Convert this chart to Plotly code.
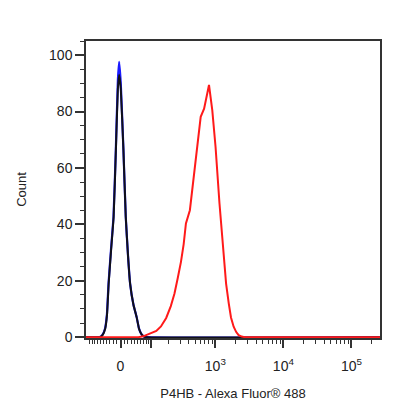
import numpy as np
import plotly.graph_objects as go

# display transform (biexponential-like) used for the x axis
W = 81.0


def disp(v):
    return np.arcsinh(np.asarray(v, dtype=float) / W) / np.log(10)


# histogram curves, x in display units, y in counts
black_x = [-0.507, -0.300, -0.262, -0.225, -0.198, -0.174, -0.138, -0.101,
           -0.068, -0.039, -0.020, 0.004, 0.043, 0.077, 0.110, 0.141, 0.190,
           0.236, 0.272, 0.304, 0.340, 0.380, 3.812]
black_y = [0, 0, 0.8, 3, 8, 19, 31, 42.7, 66.3, 88, 93, 88, 66.3, 42.7, 29,
           19, 11.5, 7.2, 3, 1.2, 0.3, 0, 0]

blue_x = [-0.507, -0.305, -0.266, -0.228, -0.200, -0.176, -0.140, -0.103,
          -0.069, -0.039, -0.020, 0.004, 0.043, 0.077, 0.110, 0.141, 0.190,
          0.236, 0.272, 0.304, 0.340, 0.380, 3.812]
blue_y = [0, 0, 0.8, 3, 8, 19, 31, 42.7, 66.3, 91, 97.6, 90, 66.3, 42.7, 29,
          19, 11.5, 7.2, 3, 1.2, 0.3, 0, 0]

red_x = [-0.507, 0.261, 0.333, 0.420, 0.526, 0.594, 0.671, 0.739, 0.793,
         0.841, 0.888, 0.928, 0.961, 1.019, 1.051, 1.083, 1.130, 1.178,
         1.228, 1.261, 1.300, 1.348, 1.396, 1.454, 1.517, 1.551, 1.590,
         1.623, 1.662, 1.700, 1.735, 1.780, 1.826, 3.812]
red_y = [0, 0, 0.3, 1.2, 2.2, 3.8, 6.8, 11, 15.5, 21, 26.7, 33, 40.3, 45,
         52, 59.2, 68.7, 78.1, 81, 84.6, 89.4, 80.5, 67.5, 47.4, 28.5, 19,
         12, 7, 3.7, 1.8, 0.7, 0.2, 0, 0]

# axis ticks (intensity values)
major_vals = [0, 100, 1000, 10000, 100000]
major_text = ["0", "", "10<sup>3</sup>", "10<sup>4</sup>", "10<sup>5</sup>"]
minor_vals = ([-m for m in range(10, 101, 10)] + list(range(10, 100, 10))
              + list(range(200, 1000, 100)) + list(range(2000, 10000, 1000))
              + list(range(20000, 100000, 10000)) + [200000])

FONT = "Liberation Sans, Arial, sans-serif"
AX = "#333333"

fig = go.Figure()
fig.add_trace(go.Scatter(x=blue_x, y=blue_y, mode="lines",
                         line=dict(color="#1a1aff", width=2.2, shape="spline",
                                   smoothing=0.4)))
fig.add_trace(go.Scatter(x=black_x, y=black_y, mode="lines",
                         line=dict(color="#101018", width=2, shape="spline",
                                   smoothing=0.4)))
fig.add_trace(go.Scatter(x=red_x, y=red_y, mode="lines",
                         line=dict(color="#ff1a1a", width=2)))

fig.update_xaxes(
    range=[-0.507, 3.812],
    tickvals=disp(major_vals), ticktext=major_text,
    ticks="outside", ticklen=8, tickwidth=1.5, tickcolor=AX,
    minor=dict(tickvals=disp(minor_vals), ticks="outside", ticklen=4,
               tickwidth=1, tickcolor=AX),
    showline=True, linecolor=AX, linewidth=1.5, mirror=True,
    showgrid=False, zeroline=False,
    tickfont=dict(size=14, color="#222"),
    ticklabelstandoff=6,
    title=dict(text="P4HB - Alexa Fluor® 488", font=dict(size=13, color="#222"),
               standoff=16),
)
fig.update_yaxes(
    range=[-0.3, 105],
    tickvals=[0, 20, 40, 60, 80, 100],
    ticks="outside", ticklen=9, tickwidth=1.5, tickcolor=AX,
    minor=dict(dtick=5, ticks="outside", ticklen=4, tickwidth=1, tickcolor=AX),
    showline=True, linecolor=AX, linewidth=1.5, mirror=True,
    showgrid=False, zeroline=False,
    tickfont=dict(size=14, color="#222"),
    title=dict(text="Count", font=dict(size=13, color="#222"), standoff=20),
)
fig.update_layout(
    width=416, height=416,
    margin=dict(l=74, r=44, t=33, b=86),
    plot_bgcolor="white", paper_bgcolor="white",
    showlegend=False,
    font=dict(family=FONT),
)

fig.write_html("out.html")
